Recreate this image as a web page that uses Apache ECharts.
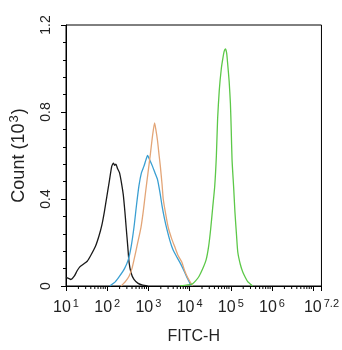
<!DOCTYPE html>
<html>
<head>
<meta charset="utf-8">
<script src="https://cdn.jsdelivr.net/npm/echarts@6/dist/echarts.min.js"></script>
<style>html,body{margin:0;padding:0;background:#fff}#c{width:342px;height:350px}</style>
</head>
<body>
<div id="c"></div>
<script>
// x values are log10(FITC-H); y values are Count (10^3)
const blackX = [1.0,1.06,1.12,1.2,1.27,1.33,1.42,1.52,1.6,1.71,1.8,1.87,1.93,1.99,2.05,2.11,2.15,2.18,2.21,2.25,2.3,2.35,2.39,2.43,2.46,2.5,2.53,2.58,2.65,2.75,2.86,2.98];
const blackY = [0.04,0.035,0.03,0.045,0.07,0.087,0.1,0.115,0.14,0.18,0.23,0.28,0.34,0.41,0.48,0.55,0.565,0.555,0.56,0.54,0.52,0.47,0.42,0.34,0.27,0.18,0.11,0.06,0.03,0.012,0.004,0];
const blueX = [2.06,2.2,2.3,2.42,2.51,2.58,2.65,2.71,2.77,2.83,2.89,2.94,2.98,3.03,3.1,3.16,3.22,3.28,3.33,3.39,3.45,3.52,3.59,3.67,3.76,3.84,3.92,4.04];
const blueY = [0,0.02,0.045,0.08,0.12,0.18,0.27,0.37,0.46,0.52,0.55,0.58,0.6,0.58,0.55,0.52,0.49,0.43,0.37,0.31,0.26,0.21,0.17,0.14,0.11,0.08,0.046,0];
const orangeX = [2.34,2.44,2.53,2.6,2.65,2.73,2.82,2.88,2.93,2.99,3.05,3.1,3.15,3.18,3.22,3.26,3.29,3.33,3.36,3.42,3.48,3.56,3.64,3.72,3.81,3.88,3.95,4.07];
const orangeY = [0,0.02,0.045,0.08,0.12,0.19,0.27,0.35,0.43,0.52,0.61,0.69,0.75,0.72,0.67,0.6,0.55,0.47,0.4,0.33,0.27,0.22,0.18,0.14,0.11,0.07,0.04,0];
const greenX = [3.76,3.95,4.07,4.15,4.23,4.32,4.4,4.46,4.51,4.56,4.61,4.65,4.68,4.72,4.77,4.81,4.84,4.87,4.9,4.92,4.96,4.99,5.01,5.03,5.07,5.1,5.14,5.17,5.23,5.29,5.35,5.41,5.53];
const greenY = [0,0.005,0.01,0.025,0.045,0.08,0.12,0.18,0.26,0.36,0.46,0.6,0.77,0.9,1.0,1.05,1.08,1.09,1.07,1.03,0.94,0.84,0.72,0.58,0.45,0.34,0.23,0.155,0.1,0.064,0.04,0.02,0];
const xTicks = [1,2,3,4,5,6,7.2];
const yTicks = [0,0.4,0.8,1.2];

function pairs(xs, ys){ return xs.map((x,i)=>[x, ys[i]]); }
const minorX = [];
for (let n = 1; n <= 7; n++) {
  for (let k = 2; k <= 9; k++) {
    const v = n + Math.log10(k);
    if (v < 7.2) minorX.push([v, 0]);
  }
}

const chart = echarts.init(document.getElementById('c'), null, {renderer:'canvas'});
const FONT = 'Liberation Sans, Arial, sans-serif';
function lineSeries(name, xs, ys, color){
  return {type:'line', name, data: pairs(xs, ys), showSymbol:false, symbol:'none', smooth:0.2,
    lineStyle:{color, width:1.3}, z:3, animation:false};
}
chart.setOption({
  animation:false,
  backgroundColor:'#fff',
  grid:{left:63, right:16, top:25, bottom:63, show:true, borderColor:'#000', borderWidth:1},
  xAxis:{type:'value', min:1, max:7.2, interval:1,
    name:'FITC-H', nameLocation:'middle', nameGap:43,
    nameTextStyle:{fontFamily:FONT, fontSize:16, color:'#222'},
    axisLine:{show:true, lineStyle:{color:'#000', width:1}},
    axisTick:{show:true, inside:false, length:5, lineStyle:{color:'#000'}},
    splitLine:{show:false},
    axisLabel:{margin:12, fontFamily:FONT, color:'#222',
      formatter:function(v){
        const r = Math.round(v*10)/10;
        if (xTicks.indexOf(r) < 0) return '';
        return '{b|10}{s|' + r + '}';
      },
      rich:{b:{fontSize:16, fontFamily:FONT, color:'#222', lineHeight:18},
            s:{fontSize:11, fontFamily:FONT, color:'#222', padding:[0,0,9,2]}}
    }
  },
  yAxis:{type:'value', min:0, max:1.2, interval:0.4,
    name:'{a|Count (10}{s|3}{a|)}', nameLocation:'middle', nameGap:36,
    nameTextStyle:{rich:{a:{fontFamily:FONT, fontSize:18, color:'#222'}, s:{fontFamily:FONT, fontSize:13, color:'#222', padding:[0,1,9,1]}}},
    axisLine:{show:true, lineStyle:{color:'#000', width:1}},
    axisTick:{show:true, inside:false, length:5, lineStyle:{color:'#000'}},
    minorTick:{show:true, splitNumber:5, length:3, lineStyle:{color:'#000'}},
    splitLine:{show:false},
    axisLabel:{rotate:90, margin:13, fontFamily:FONT, fontSize:14, color:'#222',
      formatter:function(v){ const r=Math.round(v*10)/10; return yTicks.indexOf(r)>=0 ? String(r) : ''; }}
  },
  series:[
    lineSeries('isotype', blackX, blackY, '#1a1a1a'),
    lineSeries('blue', blueX, blueY, '#3a9fd2'),
    lineSeries('orange', orangeX, orangeY, '#e3a577'),
    lineSeries('green', greenX, greenY, '#5cc848'),
    {type:'custom', data:minorX, clip:false, silent:true, z:5,
      renderItem:function(params, api){
        const p = api.coord([api.value(0), 0]);
        return {type:'line', shape:{x1:p[0], y1:p[1], x2:p[0], y2:p[1]+3}, style:{stroke:'#000', lineWidth:1}};
      }}
  ]
});
</script>
</body>
</html>
